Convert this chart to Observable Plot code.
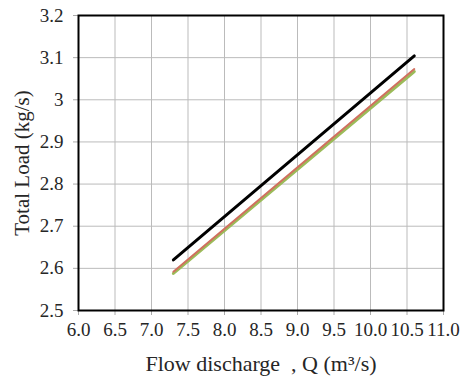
<!DOCTYPE html>
<html><head><meta charset="utf-8">
<script src="https://cdn.jsdelivr.net/npm/d3@7"></script>
<script src="https://cdn.jsdelivr.net/npm/@observablehq/plot@0.6"></script>
<style>
body{margin:0;background:#fff}
#chart svg text{font-family:"Liberation Serif",serif !important;font-size:19px !important;fill:#262626}
#chart svg [aria-label='x-axis label'] text{font-size:22px !important}
#chart svg [aria-label='y-axis label'] text{font-size:21px !important}
#chart svg [aria-label='x-axis tick'] path,#chart svg [aria-label='y-axis tick'] path{stroke:#aaa !important}
</style>
</head><body><div id="chart"></div>
<script>
const flow = [7.3, 10.6];
const seriesNames = ["Black", "Green", "Red"];
const blackLoad = [2.620, 3.104];
const greenLoad = [2.588, 3.067];
const redLoad = [2.592, 3.073];
const seriesColors = ["#000000", "#9bbb59", "#d0705f"];
const seriesWidths = [3, 3, 2];
const xTicks = [6.0, 6.5, 7.0, 7.5, 8.0, 8.5, 9.0, 9.5, 10.0, 10.5, 11.0];
const yTicks = [2.5, 2.6, 2.7, 2.8, 2.9, 3.0, 3.1, 3.2];
const yTickLabels = ["2.5", "2.6", "2.7", "2.8", "2.9", "3", "3.1", "3.2"];

const loads = [blackLoad, greenLoad, redLoad];
const lineMarks = seriesNames.map((s, i) =>
  Plot.line(flow.map((q, j) => ({series: s, q, load: loads[i][j]})),
    {x: "q", y: "load", stroke: seriesColors[i], strokeWidth: seriesWidths[i]}));

const plot = Plot.plot({
  width: 461, height: 381,
  marginLeft: 78, marginRight: 18, marginTop: 15, marginBottom: 71,
  style: {background: "#fff"},
  x: {domain: [6, 11], ticks: xTicks, tickFormat: d3.format(".1f"), tickSize: 5, tickPadding: 7,
      label: "Flow discharge  , Q (m³/s)", labelAnchor: "center", labelArrow: "none", labelOffset: 60},
  y: {domain: [2.5, 3.2], ticks: yTicks, tickFormat: (d) => yTickLabels[yTicks.indexOf(d)] ?? d, tickSize: 5, tickPadding: 10,
      label: "Total Load (kg/s)", labelAnchor: "center", labelArrow: "none", labelOffset: 64},
  marks: [
    Plot.gridX(xTicks, {stroke: "#bbb", strokeOpacity: 1, strokeWidth: 1}),
    Plot.gridY(yTicks, {stroke: "#bbb", strokeOpacity: 1, strokeWidth: 1}),
    ...lineMarks,
    Plot.frame({stroke: "#000", strokeWidth: 2})
  ]
});
document.getElementById("chart").appendChild(plot);
</script>
</body></html>
